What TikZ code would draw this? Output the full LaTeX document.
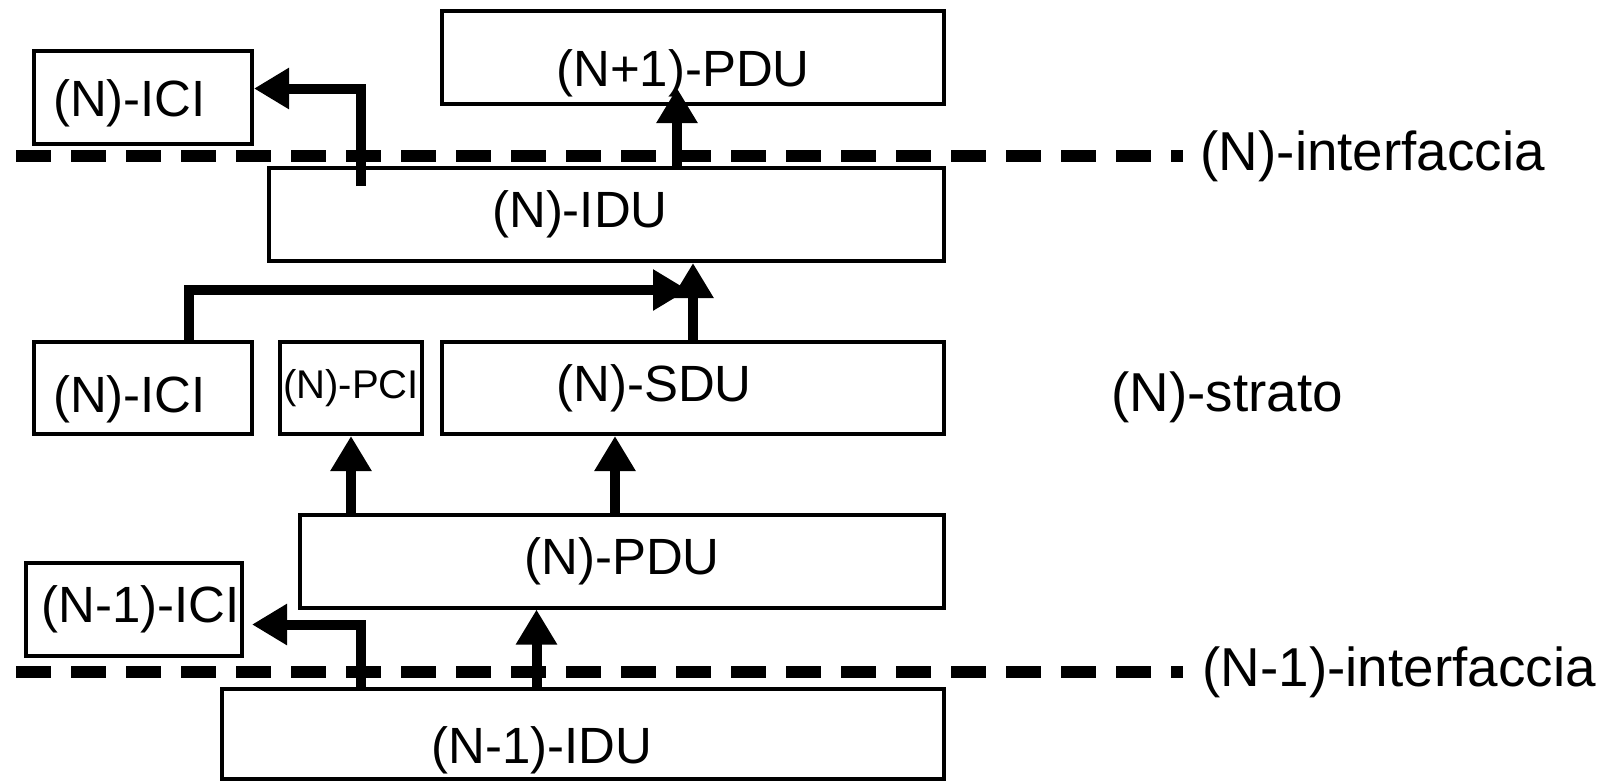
\documentclass[tikz,border=0pt]{standalone}
\usepackage{fontspec}
\setmainfont{Liberation Sans}
\usetikzlibrary{arrows.meta}
\usetikzlibrary{positioning}
\tikzset{
  unit/.style={draw, line width=0.04cm, inner sep=0pt, minimum height=0.93cm},
  arr/.style={line width=0.1cm, -{Triangle[length=0.35cm, width=0.39cm]}},
  sep/.style={line width=0.12cm, dash pattern=on 0.35cm off 0.2cm},
  lab/.style={inner sep=0pt, font=\fontsize{15.6pt}{18pt}\selectfont}
}
\begin{document}
\begin{tikzpicture}[font=\fontsize{14.5pt}{17pt}\selectfont]
\useasboundingbox (0,0) rectangle (16.10,-7.81);

% (N+1) side
\node[unit, minimum width=2.18cm, label={[xshift=-0.135cm, yshift=-0.055cm]center:(N)-ICI}] (ICI1) at (1.43,-0.975) {};
\node[unit, minimum width=5.02cm, label={[xshift=-0.1cm, yshift=-0.155cm]center:(N+1)-PDU}] (PDU0) at (6.93,-0.575) {};
\node[unit, minimum width=6.75cm, label={[xshift=-0.265cm]center:(N)-IDU}] (IDU1) at (6.065,-2.145) {};

% (N) layer
\node[unit, minimum width=2.18cm, minimum height=0.92cm, label={[xshift=-0.135cm, yshift=-0.115cm]center:(N)-ICI}] (ICI2) at (1.43,-3.88) {};
\node[unit, minimum width=1.42cm, minimum height=0.92cm, font=\fontsize{11.4pt}{13pt}\selectfont] (PCI2) at (3.51,-3.88) {(N)-PCI};
\node[unit, minimum width=5.02cm, minimum height=0.92cm, label={[xshift=-0.39cm]center:(N)-SDU}] (SDU2) at (6.93,-3.88) {};
\node[unit, minimum width=6.44cm] (PDU2) at (6.22,-5.61) {(N)-PDU};

% (N-1) side
\node[unit, minimum width=2.16cm, label={[xshift=0.065cm]center:(N-1)-ICI}] (ICI3) at (1.34,-6.09) {};
\node[unit, minimum width=7.22cm, minimum height=0.90cm, label={[xshift=-0.41cm, yshift=-0.16cm]center:(N-1)-IDU}] (IDU3) at (5.83,-7.34) {};

% interfaces
\coordinate (d1) at (0.16,-1.56);
\coordinate (e1) at (11.83,-1.56);
\draw[sep] (d1) -- (e1);
\node[lab, right=0.17cm of e1] (if1) {(N)-interfaccia};

\coordinate (d2) at (0.16,-6.72);
\coordinate (e2) at (11.83,-6.72);
\draw[sep] (d2) -- (e2);
\node[lab, right=0.19cm of e2] (if2) {(N-1)-interfaccia};

\node[lab] (strato) at (12.27,-3.97) {(N)-strato};

% arrows
\draw[arr] ([xshift=-2.46cm, yshift=-0.2cm]IDU1.north) |- ([yshift=0.09cm]ICI1.east);
\draw[arr] ([xshift=0.705cm]IDU1.north) coordinate (k2) -- ([yshift=0.18cm]k2 |- PDU0.south);
\draw[arr] (SDU2.north) -- (SDU2.north |- IDU1.south);
\coordinate (k3) at (6.88,-2.90);
\draw[arr] ([xshift=0.46cm]ICI2.north) |- (k3);
\draw[arr] (PDU2.north -| PCI2) -- (PCI2);
\draw[arr] ([xshift=-0.07cm]PDU2.north) coordinate (k6) -- (k6 |- SDU2.south);
\draw[arr] ([xshift=-0.465cm]IDU3.north) coordinate (k7) -- (k7 |- PDU2.south);
\draw[arr] ([xshift=-2.225cm]IDU3.north) |- ([xshift=0.08cm, yshift=-0.155cm]ICI3.east);

\end{tikzpicture}
\end{document}
